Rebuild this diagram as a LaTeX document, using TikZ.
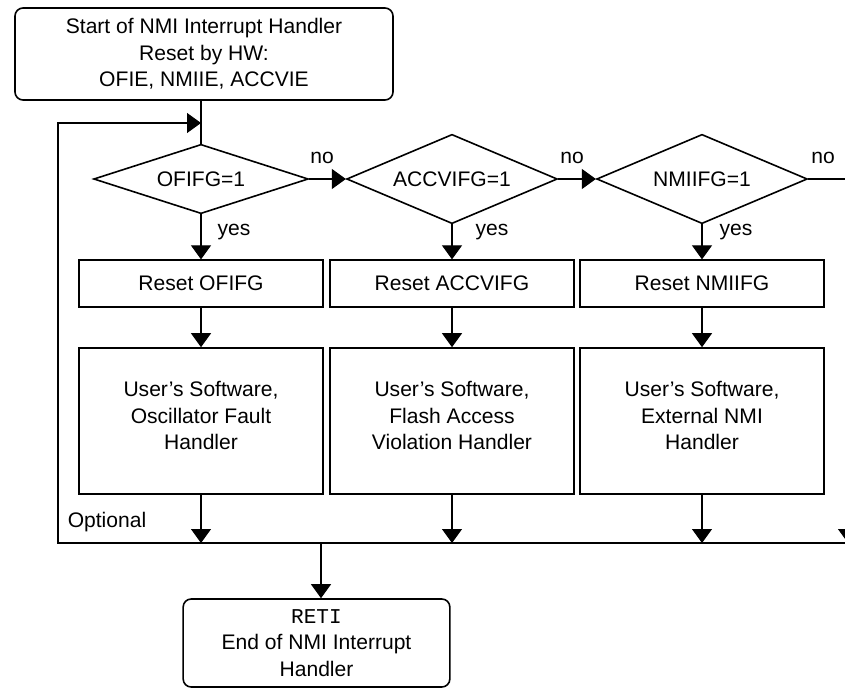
\documentclass[tikz,border=0pt]{standalone}
\usepackage{fontspec}
\setmainfont{Liberation Sans}
\setmonofont{Liberation Mono}
\usetikzlibrary{shapes.geometric,arrows.meta}

\tikzset{
  wire/.style={line width=0.8pt},
  flow/.style={wire, -{Triangle[length=10.5pt,width=15pt]}},
  box/.style={draw, line width=1.2pt, minimum width=183pt, align=center},
  test/.style={draw, diamond, aspect=3, inner sep=0pt, line width=1.2pt},
  term/.style={draw, rounded corners=6pt, line width=1.2pt, align=center},
}

\begin{document}
\begin{tikzpicture}[x=0.75pt, y=-0.75pt, font=\fontsize{15.8}{20}\selectfont]
\clip (0,0) rectangle (845,688);

\node[term, minimum width=283.5pt, minimum height=69pt] (start) at (204,54)
  {Start of NMI Interrupt Handler\\Reset by HW:\\OFIE, NMIIE, ACCVIE};

% Tests
\node[test, minimum width=161pt, minimum height=52pt] (d1) at (201,179) {OFIFG=1};
\node[test, minimum width=158pt, minimum height=67pt] (d2) at (452,179) {ACCVIFG=1};
\node[test, minimum width=158pt, minimum height=67pt] (d3) at (702,179) {NMIIFG=1};

% Columns
\foreach \x/\n/\flag/\txt in {201/1/OFIFG/{User's Software,\\Oscillator Fault\\Handler},
    452/2/ACCVIFG/{User's Software,\\Flash Access\\Violation Handler},
    702/3/NMIIFG/{User's Software,\\External NMI\\Handler}} {%
  \node[box, minimum height=35pt] (reset\n) at (\x,283.5) {Reset \flag};
  \node[box, minimum height=109.5pt, text depth=8pt] (user\n) at (\x,421) {\txt};
  \coordinate (join\n) at (\x,543);
  \draw[flow] (d\n.south) -- (reset\n.north);
  \draw[flow] (reset\n) -- (user\n);
  \draw[flow] (user\n) -- (join\n);
}

% Labels
\foreach \x/\n in {322/1, 572/2, 823/3} {%
  \node (no\n) at (\x,158) {no};
}
\foreach \x/\n in {234/1, 492/2, 736/3} {%
  \node (yes\n) at (\x,232) {yes};
}
\node (optional) at (107,522) {Optional};

\node[term, minimum width=200pt, minimum height=66pt] (reti) at (316.5,643)
  {\texttt{RETI}\\End of NMI Interrupt\\Handler};

\coordinate (loop) at (201,123);
\coordinate (back) at (58,123);
\coordinate (edge) at (848,543);
\coordinate (out) at (321,543);

\draw[wire] (d1.north |- start.south) -- (d1.north);
\draw[flow] (join1) -| (back) -- (loop);
\draw[flow] (d1.east) -- (d2.west);
\draw[flow] (d2.east) -- (d3.west);
\draw[flow] (d3.east) -| (edge);
\draw[wire] (join1) -- (edge);
\draw[flow] (out) -- (out |- reti.north);
\end{tikzpicture}
\end{document}
